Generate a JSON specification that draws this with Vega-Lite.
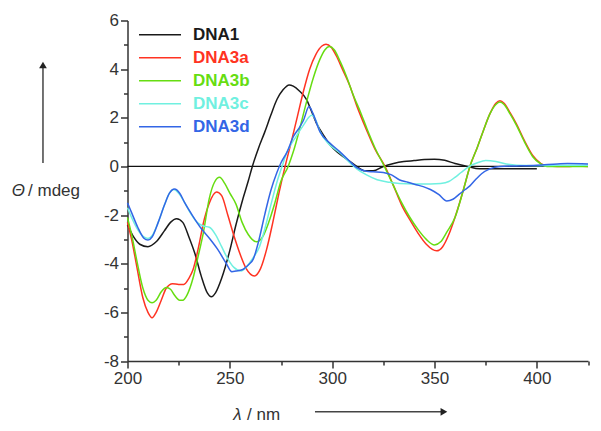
{
  "$schema": "https://vega.github.io/schema/vega-lite/v6.json",
  "width": 460.5,
  "height": 340.5,
  "autosize": "none",
  "padding": {"left": 127.5, "top": 20.5, "right": 13, "bottom": 70},
  "config": {
    "view": {"stroke": null},
    "font": "Liberation Sans",
    "axis": {"grid": false, "domainColor": "#333", "domainWidth": 1.5, "tickColor": "#333", "tickWidth": 1.5, "labelColor": "#333", "labelFont": "Liberation Sans", "labelFontSize": 17, "labelFlush": false, "title": null}
  },
  "data": {"values": [{}]},
  "resolve": {"axis": {"x": "independent", "y": "independent"}},
  "layer": [
    {
      "mark": {"type": "rule", "color": "#111", "strokeWidth": 1.2},
      "encoding": {
        "x": {"datum": 200, "type": "quantitative", "scale": {"domain": [200, 425], "nice": false, "zero": false},
              "axis": {"orient": "bottom", "values": [225, 275, 325, 375, 425], "tickSize": 4, "labels": false, "domain": false, "title": null}},
        "x2": {"datum": 425},
        "y": {"datum": 0, "type": "quantitative", "scale": {"domain": [-8, 6], "nice": false, "zero": false},
              "axis": {"orient": "left", "values": [-7, -5, -3, -1, 1, 3, 5], "tickSize": 4, "labels": false, "domain": false, "title": null}}
      }
    },
    {
      "data": {"values": [
        {"s":"DNA1","nm":200,"v":-2.4},{"s":"DNA1","nm":203,"v":-2.9},{"s":"DNA1","nm":206,"v":-3.2},{"s":"DNA1","nm":210,"v":-3.3},{"s":"DNA1","nm":214,"v":-3.1},{"s":"DNA1","nm":218,"v":-2.65},{"s":"DNA1","nm":221,"v":-2.3},{"s":"DNA1","nm":224,"v":-2.15},{"s":"DNA1","nm":227,"v":-2.3},{"s":"DNA1","nm":230,"v":-2.9},{"s":"DNA1","nm":233,"v":-3.6},{"s":"DNA1","nm":236,"v":-4.5},{"s":"DNA1","nm":239,"v":-5.2},{"s":"DNA1","nm":241,"v":-5.36},{"s":"DNA1","nm":243,"v":-5.2},{"s":"DNA1","nm":246,"v":-4.6},{"s":"DNA1","nm":250,"v":-3.45},{"s":"DNA1","nm":253,"v":-2.4},{"s":"DNA1","nm":256.5,"v":-1.3},{"s":"DNA1","nm":259,"v":-0.6},{"s":"DNA1","nm":261,"v":0},{"s":"DNA1","nm":264,"v":0.75},{"s":"DNA1","nm":267,"v":1.4},{"s":"DNA1","nm":270,"v":2.1},{"s":"DNA1","nm":273,"v":2.75},{"s":"DNA1","nm":276,"v":3.15},{"s":"DNA1","nm":279,"v":3.35},{"s":"DNA1","nm":281,"v":3.3},{"s":"DNA1","nm":284,"v":3.1},{"s":"DNA1","nm":287.5,"v":2.75},{"s":"DNA1","nm":290,"v":2.25},{"s":"DNA1","nm":292.5,"v":1.75},{"s":"DNA1","nm":296,"v":1.25},{"s":"DNA1","nm":299,"v":0.88},{"s":"DNA1","nm":303,"v":0.55},{"s":"DNA1","nm":308,"v":0.25},{"s":"DNA1","nm":312,"v":0},{"s":"DNA1","nm":316,"v":-0.18},{"s":"DNA1","nm":320,"v":-0.18},{"s":"DNA1","nm":325,"v":0},{"s":"DNA1","nm":330,"v":0.12},{"s":"DNA1","nm":335,"v":0.2},{"s":"DNA1","nm":340,"v":0.24},{"s":"DNA1","nm":345,"v":0.28},{"s":"DNA1","nm":350,"v":0.3},{"s":"DNA1","nm":355,"v":0.25},{"s":"DNA1","nm":360,"v":0.12},{"s":"DNA1","nm":366,"v":0},{"s":"DNA1","nm":372,"v":-0.1},{"s":"DNA1","nm":380,"v":-0.1},{"s":"DNA1","nm":390,"v":-0.1},{"s":"DNA1","nm":400,"v":-0.1},
        {"s":"DNA3a","nm":200,"v":-2.3},{"s":"DNA3a","nm":202,"v":-3.0},{"s":"DNA3a","nm":204.5,"v":-4.1},{"s":"DNA3a","nm":207.5,"v":-5.4},{"s":"DNA3a","nm":210,"v":-6.0},{"s":"DNA3a","nm":212,"v":-6.22},{"s":"DNA3a","nm":214,"v":-6.0},{"s":"DNA3a","nm":216.5,"v":-5.5},{"s":"DNA3a","nm":219,"v":-5.0},{"s":"DNA3a","nm":222,"v":-4.82},{"s":"DNA3a","nm":225,"v":-4.85},{"s":"DNA3a","nm":227.5,"v":-4.85},{"s":"DNA3a","nm":230,"v":-4.6},{"s":"DNA3a","nm":232,"v":-4.25},{"s":"DNA3a","nm":235,"v":-3.2},{"s":"DNA3a","nm":237,"v":-2.35},{"s":"DNA3a","nm":240,"v":-1.5},{"s":"DNA3a","nm":243.5,"v":-1.05},{"s":"DNA3a","nm":246,"v":-1.2},{"s":"DNA3a","nm":249,"v":-2.0},{"s":"DNA3a","nm":252,"v":-2.85},{"s":"DNA3a","nm":255,"v":-3.6},{"s":"DNA3a","nm":258,"v":-4.2},{"s":"DNA3a","nm":262,"v":-4.5},{"s":"DNA3a","nm":265,"v":-4.2},{"s":"DNA3a","nm":268,"v":-3.4},{"s":"DNA3a","nm":271,"v":-2.3},{"s":"DNA3a","nm":274,"v":-1.1},{"s":"DNA3a","nm":277,"v":0},{"s":"DNA3a","nm":280,"v":1.0},{"s":"DNA3a","nm":283,"v":2.05},{"s":"DNA3a","nm":286,"v":3.1},{"s":"DNA3a","nm":289,"v":4.0},{"s":"DNA3a","nm":292,"v":4.6},{"s":"DNA3a","nm":295,"v":4.95},{"s":"DNA3a","nm":297,"v":5.02},{"s":"DNA3a","nm":299.5,"v":4.9},{"s":"DNA3a","nm":302,"v":4.55},{"s":"DNA3a","nm":305,"v":4.0},{"s":"DNA3a","nm":308.7,"v":3.3},{"s":"DNA3a","nm":312,"v":2.5},{"s":"DNA3a","nm":316.8,"v":1.5},{"s":"DNA3a","nm":321,"v":0.7},{"s":"DNA3a","nm":325.8,"v":0},{"s":"DNA3a","nm":330,"v":-0.8},{"s":"DNA3a","nm":334,"v":-1.6},{"s":"DNA3a","nm":338,"v":-2.2},{"s":"DNA3a","nm":342,"v":-2.75},{"s":"DNA3a","nm":346,"v":-3.2},{"s":"DNA3a","nm":351,"v":-3.47},{"s":"DNA3a","nm":354,"v":-3.3},{"s":"DNA3a","nm":357,"v":-2.8},{"s":"DNA3a","nm":360,"v":-2.1},{"s":"DNA3a","nm":364,"v":-1.0},{"s":"DNA3a","nm":367.3,"v":0},{"s":"DNA3a","nm":371,"v":0.8},{"s":"DNA3a","nm":374,"v":1.5},{"s":"DNA3a","nm":377,"v":2.15},{"s":"DNA3a","nm":380,"v":2.6},{"s":"DNA3a","nm":382,"v":2.7},{"s":"DNA3a","nm":384,"v":2.6},{"s":"DNA3a","nm":387,"v":2.2},{"s":"DNA3a","nm":390,"v":1.75},{"s":"DNA3a","nm":394,"v":1.05},{"s":"DNA3a","nm":398,"v":0.45},{"s":"DNA3a","nm":402,"v":0.12},{"s":"DNA3a","nm":405,"v":0.02},{"s":"DNA3a","nm":410,"v":0},{"s":"DNA3a","nm":415,"v":0},{"s":"DNA3a","nm":420,"v":0.02},{"s":"DNA3a","nm":425,"v":0},
        {"s":"DNA3b","nm":200,"v":-2.1},{"s":"DNA3b","nm":202,"v":-2.8},{"s":"DNA3b","nm":204.5,"v":-3.85},{"s":"DNA3b","nm":207.5,"v":-5.0},{"s":"DNA3b","nm":210,"v":-5.5},{"s":"DNA3b","nm":212,"v":-5.6},{"s":"DNA3b","nm":214,"v":-5.5},{"s":"DNA3b","nm":216.5,"v":-5.15},{"s":"DNA3b","nm":219,"v":-4.98},{"s":"DNA3b","nm":221,"v":-5.05},{"s":"DNA3b","nm":223,"v":-5.3},{"s":"DNA3b","nm":225.5,"v":-5.5},{"s":"DNA3b","nm":227,"v":-5.5},{"s":"DNA3b","nm":229,"v":-5.3},{"s":"DNA3b","nm":232,"v":-4.6},{"s":"DNA3b","nm":234.5,"v":-3.7},{"s":"DNA3b","nm":237,"v":-2.75},{"s":"DNA3b","nm":240,"v":-1.3},{"s":"DNA3b","nm":242.5,"v":-0.65},{"s":"DNA3b","nm":245,"v":-0.45},{"s":"DNA3b","nm":247.5,"v":-0.7},{"s":"DNA3b","nm":250,"v":-1.1},{"s":"DNA3b","nm":253,"v":-1.55},{"s":"DNA3b","nm":256,"v":-2.3},{"s":"DNA3b","nm":259,"v":-2.8},{"s":"DNA3b","nm":263,"v":-3.1},{"s":"DNA3b","nm":266,"v":-2.9},{"s":"DNA3b","nm":269,"v":-2.3},{"s":"DNA3b","nm":272,"v":-1.5},{"s":"DNA3b","nm":275,"v":-0.6},{"s":"DNA3b","nm":278.5,"v":0},{"s":"DNA3b","nm":281,"v":0.6},{"s":"DNA3b","nm":284,"v":1.5},{"s":"DNA3b","nm":287,"v":2.5},{"s":"DNA3b","nm":291,"v":3.7},{"s":"DNA3b","nm":294,"v":4.4},{"s":"DNA3b","nm":296.5,"v":4.8},{"s":"DNA3b","nm":298.6,"v":4.93},{"s":"DNA3b","nm":301,"v":4.8},{"s":"DNA3b","nm":304,"v":4.3},{"s":"DNA3b","nm":307,"v":3.7},{"s":"DNA3b","nm":310,"v":3.0},{"s":"DNA3b","nm":314,"v":2.2},{"s":"DNA3b","nm":317,"v":1.55},{"s":"DNA3b","nm":321,"v":0.75},{"s":"DNA3b","nm":325.5,"v":0},{"s":"DNA3b","nm":330,"v":-0.8},{"s":"DNA3b","nm":334,"v":-1.5},{"s":"DNA3b","nm":338,"v":-2.1},{"s":"DNA3b","nm":342,"v":-2.6},{"s":"DNA3b","nm":346,"v":-3.0},{"s":"DNA3b","nm":350,"v":-3.23},{"s":"DNA3b","nm":353,"v":-3.1},{"s":"DNA3b","nm":356,"v":-2.7},{"s":"DNA3b","nm":360,"v":-2.1},{"s":"DNA3b","nm":364,"v":-1.0},{"s":"DNA3b","nm":367.3,"v":0},{"s":"DNA3b","nm":371,"v":0.8},{"s":"DNA3b","nm":374,"v":1.5},{"s":"DNA3b","nm":377,"v":2.15},{"s":"DNA3b","nm":380,"v":2.55},{"s":"DNA3b","nm":382,"v":2.65},{"s":"DNA3b","nm":384,"v":2.55},{"s":"DNA3b","nm":387,"v":2.15},{"s":"DNA3b","nm":390,"v":1.7},{"s":"DNA3b","nm":394,"v":1.0},{"s":"DNA3b","nm":398,"v":0.4},{"s":"DNA3b","nm":402,"v":0.1},{"s":"DNA3b","nm":405,"v":0},{"s":"DNA3b","nm":415,"v":0},{"s":"DNA3b","nm":425,"v":0},
        {"s":"DNA3c","nm":200,"v":-1.7},{"s":"DNA3c","nm":202,"v":-2.1},{"s":"DNA3c","nm":205,"v":-2.6},{"s":"DNA3c","nm":208,"v":-2.9},{"s":"DNA3c","nm":210,"v":-2.96},{"s":"DNA3c","nm":212,"v":-2.85},{"s":"DNA3c","nm":215,"v":-2.3},{"s":"DNA3c","nm":218,"v":-1.6},{"s":"DNA3c","nm":220.5,"v":-1.1},{"s":"DNA3c","nm":222.5,"v":-0.95},{"s":"DNA3c","nm":225,"v":-1.1},{"s":"DNA3c","nm":228,"v":-1.5},{"s":"DNA3c","nm":231,"v":-1.95},{"s":"DNA3c","nm":234,"v":-2.3},{"s":"DNA3c","nm":237,"v":-2.45},{"s":"DNA3c","nm":240,"v":-2.5},{"s":"DNA3c","nm":243,"v":-2.8},{"s":"DNA3c","nm":246,"v":-3.3},{"s":"DNA3c","nm":249,"v":-3.8},{"s":"DNA3c","nm":252,"v":-4.15},{"s":"DNA3c","nm":255.5,"v":-4.3},{"s":"DNA3c","nm":258,"v":-4.15},{"s":"DNA3c","nm":261,"v":-3.8},{"s":"DNA3c","nm":264.5,"v":-3.3},{"s":"DNA3c","nm":267,"v":-2.6},{"s":"DNA3c","nm":270,"v":-1.6},{"s":"DNA3c","nm":273,"v":-0.65},{"s":"DNA3c","nm":275.5,"v":0},{"s":"DNA3c","nm":278,"v":0.6},{"s":"DNA3c","nm":282.5,"v":1.25},{"s":"DNA3c","nm":286,"v":1.7},{"s":"DNA3c","nm":290,"v":2.1},{"s":"DNA3c","nm":292,"v":1.9},{"s":"DNA3c","nm":294,"v":1.45},{"s":"DNA3c","nm":298,"v":0.95},{"s":"DNA3c","nm":303.8,"v":0.55},{"s":"DNA3c","nm":308,"v":0.2},{"s":"DNA3c","nm":312,"v":-0.1},{"s":"DNA3c","nm":316.8,"v":-0.35},{"s":"DNA3c","nm":322,"v":-0.55},{"s":"DNA3c","nm":328,"v":-0.65},{"s":"DNA3c","nm":333,"v":-0.7},{"s":"DNA3c","nm":340,"v":-0.72},{"s":"DNA3c","nm":348,"v":-0.72},{"s":"DNA3c","nm":353,"v":-0.7},{"s":"DNA3c","nm":357,"v":-0.62},{"s":"DNA3c","nm":360,"v":-0.45},{"s":"DNA3c","nm":363,"v":-0.25},{"s":"DNA3c","nm":367,"v":0},{"s":"DNA3c","nm":371,"v":0.15},{"s":"DNA3c","nm":375,"v":0.24},{"s":"DNA3c","nm":380,"v":0.2},{"s":"DNA3c","nm":385,"v":0.1},{"s":"DNA3c","nm":390,"v":0.05},{"s":"DNA3c","nm":400,"v":0.03},{"s":"DNA3c","nm":410,"v":0.05},{"s":"DNA3c","nm":425,"v":0.05},
        {"s":"DNA3d","nm":200,"v":-1.5},{"s":"DNA3d","nm":202,"v":-1.9},{"s":"DNA3d","nm":205,"v":-2.5},{"s":"DNA3d","nm":208,"v":-2.95},{"s":"DNA3d","nm":210,"v":-3.03},{"s":"DNA3d","nm":212,"v":-2.9},{"s":"DNA3d","nm":215,"v":-2.3},{"s":"DNA3d","nm":218,"v":-1.6},{"s":"DNA3d","nm":220.5,"v":-1.1},{"s":"DNA3d","nm":223,"v":-0.93},{"s":"DNA3d","nm":225.5,"v":-1.1},{"s":"DNA3d","nm":228,"v":-1.5},{"s":"DNA3d","nm":232,"v":-2.05},{"s":"DNA3d","nm":236,"v":-2.55},{"s":"DNA3d","nm":240,"v":-2.95},{"s":"DNA3d","nm":244,"v":-3.4},{"s":"DNA3d","nm":248,"v":-3.95},{"s":"DNA3d","nm":251,"v":-4.33},{"s":"DNA3d","nm":253,"v":-4.3},{"s":"DNA3d","nm":256,"v":-4.25},{"s":"DNA3d","nm":259,"v":-4.05},{"s":"DNA3d","nm":261.5,"v":-3.8},{"s":"DNA3d","nm":264,"v":-3.1},{"s":"DNA3d","nm":267,"v":-2.0},{"s":"DNA3d","nm":270,"v":-1.0},{"s":"DNA3d","nm":273,"v":-0.25},{"s":"DNA3d","nm":275,"v":0.15},{"s":"DNA3d","nm":278,"v":0.6},{"s":"DNA3d","nm":281,"v":1.22},{"s":"DNA3d","nm":284,"v":1.6},{"s":"DNA3d","nm":286,"v":1.9},{"s":"DNA3d","nm":288.7,"v":2.46},{"s":"DNA3d","nm":290.5,"v":2.2},{"s":"DNA3d","nm":294,"v":1.43},{"s":"DNA3d","nm":299,"v":0.95},{"s":"DNA3d","nm":303.8,"v":0.6},{"s":"DNA3d","nm":308.7,"v":0.2},{"s":"DNA3d","nm":312,"v":-0.05},{"s":"DNA3d","nm":316.8,"v":-0.2},{"s":"DNA3d","nm":320,"v":-0.22},{"s":"DNA3d","nm":325,"v":-0.25},{"s":"DNA3d","nm":329,"v":-0.35},{"s":"DNA3d","nm":333,"v":-0.56},{"s":"DNA3d","nm":337,"v":-0.65},{"s":"DNA3d","nm":341,"v":-0.75},{"s":"DNA3d","nm":344.5,"v":-0.83},{"s":"DNA3d","nm":348,"v":-0.95},{"s":"DNA3d","nm":352,"v":-1.15},{"s":"DNA3d","nm":356,"v":-1.42},{"s":"DNA3d","nm":359,"v":-1.35},{"s":"DNA3d","nm":362,"v":-1.15},{"s":"DNA3d","nm":365,"v":-0.95},{"s":"DNA3d","nm":367.3,"v":-0.8},{"s":"DNA3d","nm":370,"v":-0.55},{"s":"DNA3d","nm":373,"v":-0.3},{"s":"DNA3d","nm":377,"v":-0.1},{"s":"DNA3d","nm":382,"v":0},{"s":"DNA3d","nm":390,"v":0.02},{"s":"DNA3d","nm":400,"v":0.05},{"s":"DNA3d","nm":410,"v":0.1},{"s":"DNA3d","nm":415,"v":0.12},{"s":"DNA3d","nm":425,"v":0.1}
      ]},
      "mark": {"type": "line", "strokeWidth": 1.5, "interpolate": "monotone"},
      "encoding": {
        "x": {"field": "nm", "type": "quantitative", "scale": {"domain": [200, 425], "nice": false, "zero": false},
              "axis": {"orient": "bottom", "values": [200, 250, 300, 350, 400], "labelExpr": "'' + datum.value", "tickSize": 7, "labelPadding": 2, "labelFlush": false, "title": null}},
        "y": {"field": "v", "type": "quantitative", "scale": {"domain": [-8, 6], "nice": false, "zero": false},
              "axis": {"orient": "left", "values": [-8, -6, -4, -2, 0, 2, 4, 6], "labelExpr": "'' + datum.value", "tickSize": 7, "labelPadding": 2, "labelFlush": false, "title": null}},
        "color": {"field": "s", "type": "nominal",
                  "scale": {"domain": ["DNA1", "DNA3a", "DNA3b", "DNA3c", "DNA3d"], "range": ["#1a1a1a", "#ff3322", "#66dd11", "#70f0e0", "#3366e6"]},
                  "legend": {"orient": "none", "legendX": 10.5, "legendY": 4, "title": null, "padding": 0,
                             "symbolType": "stroke", "symbolSize": 1764, "symbolStrokeWidth": 1.5, "clipHeight": 20.5, "rowPadding": 2,
                             "labelOffset": 11, "labelFontSize": 17, "labelFontWeight": "bold", "labelFont": "Liberation Sans",
                             "encode": {"labels": {"update": {"fill": {"scale": "color", "field": "value"}}}}}}
      }
    },
    {
      "mark": {"type": "rule", "color": "#444", "strokeWidth": 1.5},
      "encoding": {
        "x": {"datum": 158.7, "type": "quantitative", "scale": {"domain": [200, 425], "nice": false, "zero": false}, "axis": null},
        "y": {"datum": 0.14, "type": "quantitative", "scale": {"domain": [-8, 6], "nice": false, "zero": false}, "axis": null},
        "y2": {"datum": 4.05}
      }
    },
    {
      "mark": {"type": "point", "shape": "triangle-up", "filled": true, "color": "#222", "size": 60, "opacity": 1},
      "encoding": {
        "x": {"datum": 158.7, "type": "quantitative", "scale": {"domain": [200, 425], "nice": false, "zero": false}, "axis": null},
        "y": {"datum": 4.17, "type": "quantitative", "scale": {"domain": [-8, 6], "nice": false, "zero": false}, "axis": null}
      }
    },
    {
      "mark": {"type": "rule", "color": "#444", "strokeWidth": 1.5},
      "encoding": {
        "x": {"datum": 291.6, "type": "quantitative", "scale": {"domain": [200, 425], "nice": false, "zero": false}, "axis": null},
        "x2": {"datum": 354.0},
        "y": {"datum": -10.09, "type": "quantitative", "scale": {"domain": [-8, 6], "nice": false, "zero": false}, "axis": null}
      }
    },
    {
      "mark": {"type": "point", "shape": "triangle-right", "filled": true, "color": "#222", "size": 60, "opacity": 1},
      "encoding": {
        "x": {"datum": 354.6, "type": "quantitative", "scale": {"domain": [200, 425], "nice": false, "zero": false}, "axis": null},
        "y": {"datum": -10.09, "type": "quantitative", "scale": {"domain": [-8, 6], "nice": false, "zero": false}, "axis": null}
      }
    },
    {
      "mark": {"type": "text", "text": "Θ", "fontStyle": "italic", "fontSize": 17, "color": "#333", "align": "center", "baseline": "middle"},
      "encoding": {
        "x": {"datum": 146.7, "type": "quantitative", "scale": {"domain": [200, 425], "nice": false, "zero": false}, "axis": null},
        "y": {"datum": -1.01, "type": "quantitative", "scale": {"domain": [-8, 6], "nice": false, "zero": false}, "axis": null}
      }
    },
    {
      "mark": {"type": "text", "text": "/ mdeg", "fontSize": 17, "color": "#333", "align": "left", "baseline": "middle"},
      "encoding": {
        "x": {"datum": 151.4, "type": "quantitative", "scale": {"domain": [200, 425], "nice": false, "zero": false}, "axis": null},
        "y": {"datum": -1.01, "type": "quantitative", "scale": {"domain": [-8, 6], "nice": false, "zero": false}, "axis": null}
      }
    },
    {
      "mark": {"type": "text", "text": "λ", "fontStyle": "italic", "fontSize": 17, "color": "#333", "align": "center", "baseline": "middle"},
      "encoding": {
        "x": {"datum": 253.7, "type": "quantitative", "scale": {"domain": [200, 425], "nice": false, "zero": false}, "axis": null},
        "y": {"datum": -10.22, "type": "quantitative", "scale": {"domain": [-8, 6], "nice": false, "zero": false}, "axis": null}
      }
    },
    {
      "mark": {"type": "text", "text": "/ nm", "fontSize": 17, "color": "#333", "align": "left", "baseline": "middle"},
      "encoding": {
        "x": {"datum": 258.4, "type": "quantitative", "scale": {"domain": [200, 425], "nice": false, "zero": false}, "axis": null},
        "y": {"datum": -10.22, "type": "quantitative", "scale": {"domain": [-8, 6], "nice": false, "zero": false}, "axis": null}
      }
    }
  ]
}
